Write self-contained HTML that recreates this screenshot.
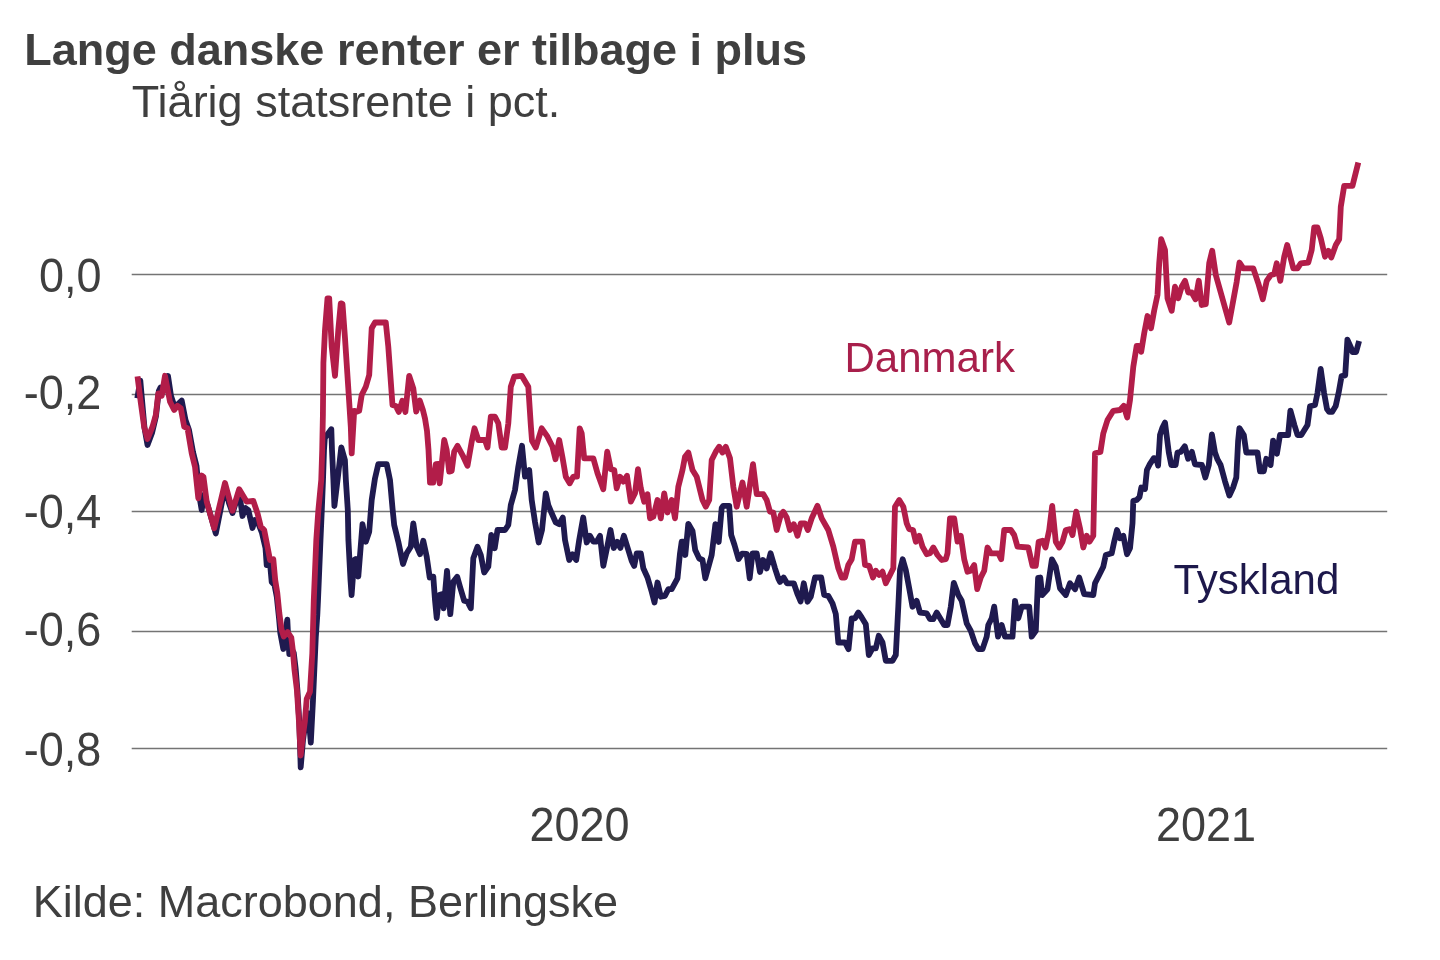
<!DOCTYPE html>
<html lang="da">
<head>
<meta charset="utf-8">
<title>Lange danske renter er tilbage i plus</title>
<style>
html,body{margin:0;padding:0;background:#fff;}
svg{display:block;}
text{font-family:"Liberation Sans",Arial,sans-serif;fill:#3f3f3f;}
</style>
</head>
<body>
<svg width="1440" height="960" viewBox="0 0 1440 960">
<rect width="1440" height="960" fill="#fff"/>
<text id="title" x="24.3" y="65" font-size="45" font-weight="bold">Lange danske renter er tilbage i plus</text>
<text id="sub" x="131.8" y="117.4" font-size="45">Tiårig statsrente i pct.</text>
<g stroke="#747474" stroke-width="1.5">
<line x1="131.7" x2="1387.2" y1="274.5" y2="274.5"/>
<line x1="131.7" x2="1387.2" y1="394.4" y2="394.4"/>
<line x1="131.7" x2="1387.2" y1="511.5" y2="511.5"/>
<line x1="131.7" x2="1387.2" y1="631.4" y2="631.4"/>
<line x1="131.7" x2="1387.2" y1="748.4" y2="748.4"/>
</g>
<g id="ylab">
<text x="101.6" y="292.3" font-size="45" text-anchor="end" transform="matrix(1 0 0 1.05 0 -14.615)">0,0</text>
<text x="101.4" y="408.9" font-size="45" text-anchor="end" transform="matrix(1 0 0 1.05 0 -20.445)">-0,2</text>
<text x="101.4" y="528.5" font-size="45" text-anchor="end" transform="matrix(1 0 0 1.05 0 -26.425)">-0,4</text>
<text x="101.4" y="646.2" font-size="45" text-anchor="end" transform="matrix(1 0 0 1.05 0 -32.310)">-0,6</text>
<text x="101.4" y="766.3" font-size="45" text-anchor="end" transform="matrix(1 0 0 1.05 0 -38.315)">-0,8</text>
</g>
<text x="579.5" y="841.2" font-size="45" text-anchor="middle" transform="matrix(1 0 0 1.05 0 -42.060)" id="y2020">2020</text>
<text x="1206" y="841.2" font-size="45" text-anchor="middle" transform="matrix(1 0 0 1.05 0 -42.060)" id="y2021">2021</text>
<polyline id="navy" fill="none" stroke="#1f1a4f" stroke-width="5.8" stroke-linejoin="round" stroke-linecap="butt" points="137.3,398.3 140.3,380.5 141.5,394 144.5,428 147.5,445 152,433 156,416 158.8,391 160.5,387.5 163,392 168,376 171,396 175,408 178,404 181.7,400.5 185.5,420 189,430 193,452 196.5,466 199.5,497 201.7,510 204,495 207,503 215.8,533.5 225,487 229,503 232.5,513 239.2,492 242.5,516 245.5,508 248.3,510 252.5,528 255,520 258.5,524 262,533 265.5,548 266.7,565 270,563 271.7,582 274.5,585 276.8,597 279,618 280.3,633 283.3,649 285.6,632 287.3,619.7 288.3,640 289.3,654 291.5,649 293.8,653 295.6,668 297.4,690 299.3,722 300.7,767.3 303,740 305.5,722 308.3,713.3 310.8,742.5 313,700 315.8,636.7 317.3,615 318,600 320.5,540 321.8,510 323,480 324,450 324.8,438 331.3,429.2 332,450 333.4,480 334.4,506 337.9,477 341.3,447.3 344.9,460 345.85,480 347.8,510 348.4,540 350.5,580 351.6,595 354.2,560 355.8,559 358.3,576.5 362.5,524.2 365.8,541.7 369.2,531.7 371.7,500 375,478.3 378.3,464.2 386.7,464.2 390,480 392.5,508.3 394.2,525 398.3,541.7 403,564 406.7,553.3 410.8,546.7 413.3,523.3 416.7,546.7 420,554.2 423.3,540.8 426.7,556.7 429.7,577.5 433.3,576.7 435,600 436.7,618 439.2,595 441.7,594.2 443.7,608.3 447,570.8 450.3,614.2 453.3,581.7 457.2,576.7 460,586.7 464.2,600.8 467.5,601.7 470.8,608.3 473.3,558.3 477.5,546.7 480.8,555 484.2,572.5 488.3,566.7 491.3,535 494.7,548.3 497.5,530 505,530 508.3,525 510.8,505 515,490 518.3,466.7 522,445.8 525,476.7 529.2,470 531.7,500 535,522 538.7,542.5 542,530 545.8,493.3 548.3,505 551.7,513.3 555.8,522.5 559.2,524.2 562.8,517.5 565,540 569.2,560 572.5,554.2 576.2,560 579.2,540 583.2,517.5 586.7,542.5 590,535.8 593.3,541.7 596.7,541.7 600,535.8 603.3,565.8 607,548 610.5,530 613.7,548 617.2,541.7 620.4,548 623.9,535.8 628,549 631.7,561 634.2,566 636.7,553.3 640.8,553.3 643.3,568.3 647.5,577.5 651.7,591.7 654.5,602.5 657.5,582.5 660.8,596.7 665,595.8 668.3,589.2 671.7,589.2 677.5,578.3 680,553.3 681.7,541.7 683.5,541.7 685.3,555 688.3,523.8 692.5,531 695.2,550 699.2,558.5 702.5,560 705.3,578.3 711.7,555 715.4,524.2 718.7,542 721.7,508 723.3,505.8 729.2,505.8 731.2,535 734.5,545 738.5,559 742.2,553.6 746.7,553.8 749.7,578.3 752.5,553.3 756.7,553.3 760,572 763,560 765,562 766.7,568.5 770.6,553.3 775,568.3 778.5,579 780,582 783.6,577.5 787,583.3 793.8,583.3 797.2,593.3 800.6,601.5 803.8,583.3 807.5,601.7 810.8,596.7 815,577.5 821.2,577.5 824.2,595 828.3,595.8 832.5,603.3 835.8,614 838.3,642.5 845,642.5 848.5,649.2 851.7,618.3 855,618.3 858.3,612.5 861.7,617.5 865.8,624.2 868.8,655 872.5,648.3 875.8,648.3 878.7,635.8 882.5,642.5 885.8,660.8 892.5,660.8 895.8,655 898.3,606.7 900,570 902.7,559.2 905.8,570 909.2,588.3 912.5,606.7 916.7,600.8 920,612.5 926.7,613.3 930,619.2 933.3,619.2 936.7,612.5 944.2,625 947.5,625 950.8,606.7 953.8,582.8 958.3,595 961.7,600.8 966.7,623.3 970.8,630.8 975,643.3 978.3,649.2 982.5,649.2 986.7,636.7 988.3,625 991.7,618.3 994.2,606.7 998,636.7 1001.7,625 1005,636.7 1012.5,636.7 1015,600.8 1018.3,618.3 1021.7,606.7 1029.2,606.7 1031.7,636.7 1035.8,630.8 1038.1,577.8 1040.3,577.5 1042.2,595 1047.5,589.2 1051.9,559.4 1055.8,566.7 1060,588.3 1065.8,595 1070,583.3 1075,589.2 1079.2,577.5 1084.2,594.2 1093.3,595 1095,583.3 1099.2,575 1103.3,566.7 1105.8,555 1111.7,553.3 1114.2,541.7 1117,530 1120,538.3 1123.3,535.8 1127,554.2 1130,548.3 1132.5,523.3 1133.3,500.8 1136.7,500 1139.5,497 1141.3,487.5 1145,489 1146.9,470 1150,463.8 1153.8,458.1 1156.3,458.8 1158.1,465.6 1160,435 1162.5,427.5 1165,422.5 1166.9,437.5 1168.8,452.5 1171.3,465 1175.6,465 1177.5,452.5 1180.6,451.9 1184.8,446.3 1188.1,458.8 1191.9,451.9 1195,464.4 1201.9,465 1205.3,477.5 1208.8,465 1211.9,434.4 1215,452.5 1217.5,459.4 1220.6,465 1225,481.3 1229.4,495.6 1233.1,487.5 1236.3,477.5 1238.1,441.3 1239.4,428.1 1243.8,435 1246.3,452.5 1257.5,452.5 1260,471.3 1263.8,471.3 1266.3,458.8 1270.6,465 1273.1,440.6 1276.9,453.8 1280,435 1288.1,435 1290.4,410.6 1294.4,425 1297.5,435 1301.3,435 1307.5,425 1310,406.3 1315,405 1317.5,393 1320.7,368.9 1324.1,392.9 1327,409 1329.2,411.9 1332.1,411.9 1335.7,406 1338.6,392.9 1341.6,376.1 1345.2,375.4 1347.4,339.7 1351,347.7 1352.5,352.1 1356.1,352.1 1359.1,341.1"/>
<polyline id="red" fill="none" stroke="#b21d49" stroke-width="5.8" stroke-linejoin="round" stroke-linecap="butt" points="137.5,376.3 140.9,403.5 144.2,427 147.5,439 152.5,426.7 155.8,415 158.3,393.3 161.7,395.8 165,375.8 170,401.7 174.2,410 177.5,405.8 180.8,408.3 184.2,426.7 187.5,428.3 191.7,453.3 195,466.7 198.3,498.3 201.7,475.5 203.5,477 206.7,501.7 214.2,528.3 225,483 232.5,510.8 239.2,489.2 246.7,501.7 253.3,500.8 257.5,513.3 260.8,526.7 264.2,530 267.5,546.7 270,560 273.3,559.2 275.2,580 277.3,593 279.3,613 281.5,629.5 283.8,636.5 287.6,632 291.3,637.5 292.8,650 294.5,670 296.9,690 299,722 300.7,755.5 302.6,738 304.9,721 306.7,699 310,691.7 312.3,653.3 313.8,600 316.3,540 318.3,511 321.25,480 322.2,450 322.9,415 323.4,363 325,330 327.5,298.3 329.2,298.3 331.7,346.7 335,375.8 338.3,330 340.8,303.3 342.5,304 345,338.3 348.3,388.3 350.8,426.7 351.7,453.3 354.2,410.8 356.7,411.7 359.2,410.8 361.7,395 365.8,386.7 369.2,375 371.7,328.3 375,322.5 385.8,322.5 388.3,346.7 392.5,405 395.8,406 398.8,412 402.3,400.8 405.4,412 409.2,375.8 413.3,388.3 416.2,411.7 419.8,400.6 422.9,410 425,418.5 427,431 428.5,450 430,482.5 433.3,482.5 435.8,464.2 438.3,464 439.7,483.3 440.8,473 444.2,440 446.7,450 449.2,471.7 451.7,471 454.2,451.7 457.5,445.8 463.3,456.7 467.5,465.8 471.7,441.7 474.5,428.3 478.3,440 485,440 487.5,447.5 490.8,416.7 495,416.7 498.3,423.3 501.7,447.5 505,447.5 508.3,423.3 510.8,386.7 514.2,376.7 521.7,375.8 528.3,386.7 530.8,425 532,440.8 535.8,447.5 541.7,428.3 547,435.8 552.5,446.7 555.5,459.2 559.2,440 562.5,457.5 565.8,476.7 569.7,483.3 573.3,476.7 577,476.7 579.7,428.3 581.7,433.3 584.2,458.3 593.3,458.3 597.5,473.3 603.3,489.2 607.2,451.7 610.8,469.2 614.2,470 616.7,488.3 620,476.7 623.3,481.7 627,475.8 630.8,501.7 635,493.3 638,469.2 640.8,488.3 644.2,501.7 647.5,494.2 650,518.3 653.3,516.7 657.5,500 660.8,518.3 664.2,493.3 667.5,512.5 671.7,500 675,518.3 678.3,486.7 682.5,470 685,456.7 688.3,452.5 692.5,470 696.7,476.7 702.5,500 705.8,506.7 709.2,500 711.7,460 715.8,451.7 719.2,446.7 722.5,452.5 725.8,446.7 730,458.3 733.3,486.7 736.7,506.7 742.5,482.5 746.7,506.7 753,464.2 756.7,494.2 763.3,494.2 766.7,500 770,511.7 773.3,512.5 776.7,530 780.8,515 783.3,511.7 786.7,517.5 790,530 793.8,524.2 797.5,535.8 800.8,523.3 805,523.3 807.8,530 811.7,518.3 817.5,505.8 821.7,518.3 828.3,530 833.3,546.7 838.3,568.3 841.7,577.5 845,577.5 848.3,565 851.7,559.2 855,541.7 862.5,541.7 865,565 869.2,565.8 873,577.5 875.8,570.8 879.2,575 882.5,571.7 885.8,583.3 890,575 893.3,568.3 895,506.7 899.2,500 903.3,506.7 906.7,523.3 909.2,529.2 913,530 915.8,541.7 919.2,535.8 922.5,546.7 926.7,554.2 930,553.3 933.3,547.5 937.5,555 941.7,560 945.8,559.2 947.5,553.3 950,518.3 954.2,518.3 957.5,541.7 960.8,535.8 964.2,559.2 967.5,571.7 970.8,570.8 974.2,565 977.2,589.2 980.8,577.5 984.2,570.8 987.5,547.5 990.8,553.3 998.3,553.3 1001.2,559.2 1004.2,530 1010.8,530 1014.2,535 1017.5,546.7 1028.3,547.5 1032.5,565.8 1035.8,565.8 1038.7,541.7 1042.5,540.8 1045.5,547.5 1049.2,530 1052.2,505.8 1055.8,541.7 1059.2,547.5 1062.5,541.7 1065.8,530 1070,529.2 1072.5,535 1076.2,511.7 1080,528.3 1083.3,547.5 1086.7,535.8 1089.5,541.7 1093.3,535.8 1095,453.3 1100.4,452 1103.3,433.3 1107.5,420 1113.3,410.8 1120,410 1123.7,405.8 1127.2,417.5 1130,400 1133.3,366.7 1136.7,345.8 1139,345.8 1141.2,351.7 1144.2,333.3 1147.5,316 1151,328.3 1154.2,310.5 1157.5,295 1159.2,263.3 1161.2,239.2 1165,250 1167.5,298.3 1171.7,310.8 1175,286.7 1178.3,298.3 1181.7,286.7 1185,280.8 1188.3,292.5 1191.7,292.5 1195.5,299.2 1198.8,280.8 1201.7,305 1205.8,304.2 1209.2,263.3 1212.2,250.8 1215.8,275 1229.2,322.5 1236.7,281.7 1239.5,262.5 1243.3,268.3 1253.3,268.3 1258.3,283.3 1262.8,299.2 1266.7,280.8 1270.8,275 1274.2,274.2 1276.7,263.3 1280.3,280.8 1284.2,256.7 1287.2,245 1293.3,268.3 1297.5,268.3 1300.8,263.3 1308.3,262.5 1311.7,250 1314.2,227.5 1317.5,227.5 1320.8,238.3 1325,256.7 1328.3,250.8 1331.3,257.5 1335.8,245 1339.2,239.2 1340.8,206.7 1344.2,185.8 1352.5,185.8 1358.3,162.5"/>
<text id="dk" x="844.5" y="372" font-size="42" style="fill:#a81f4b">Danmark</text>
<text id="de" x="1173.5" y="593.7" font-size="42" style="fill:#1d184b">Tyskland</text>
<text id="src" x="32.7" y="916.6" font-size="45">Kilde: Macrobond, Berlingske</text>
</svg>
</body>
</html>
